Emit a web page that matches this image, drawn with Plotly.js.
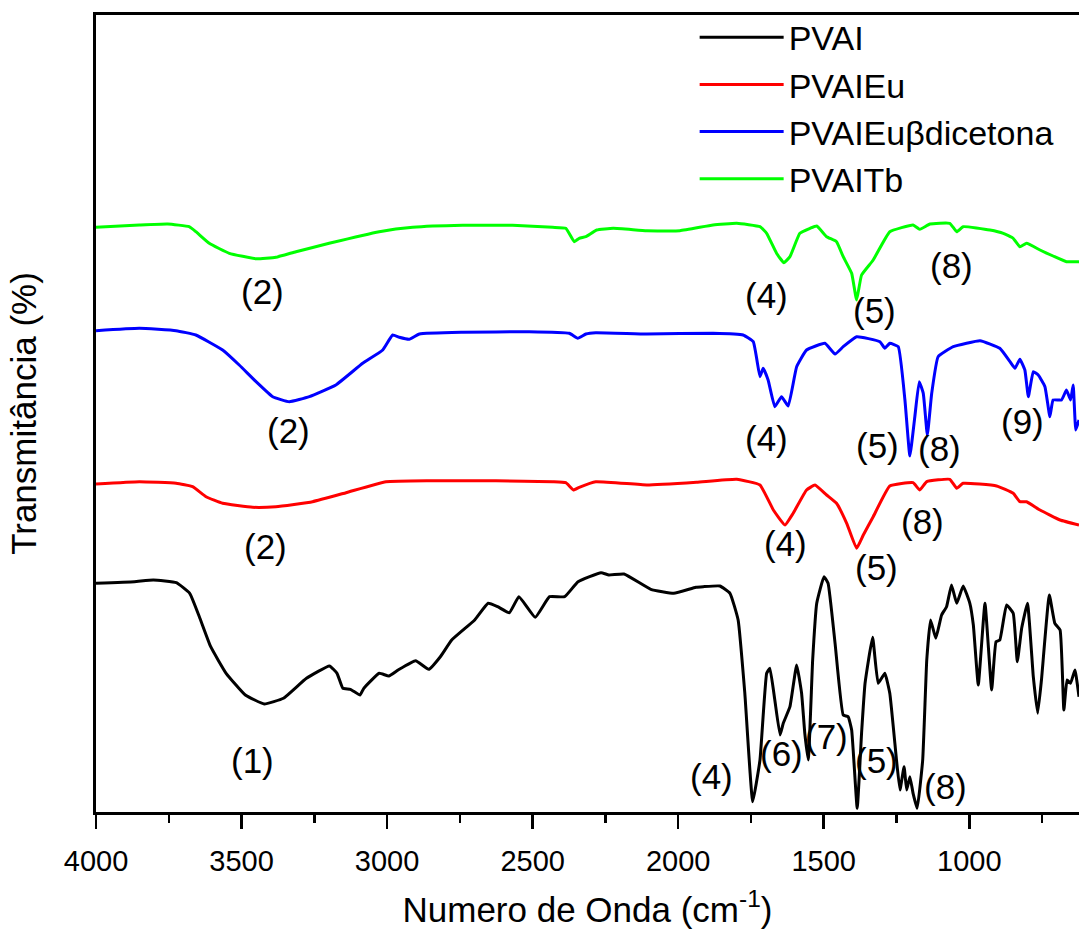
<!DOCTYPE html>
<html>
<head>
<meta charset="utf-8">
<script src="https://cdn.plot.ly/plotly-3.0.1.min.js"></script>
<style>html,body{margin:0;padding:0;background:#fff;}#chart{width:1079px;height:929px;}</style>
</head>
<body>
<div id="chart"></div>
<script>
// Series names
var seriesNames = ["PVAI", "PVAIEu", "PVAIEu\u03B2dicetona", "PVAITb"];

// PVAI (black)
var wnPVAI = [4000,3868,3803,3724,3678,3645,3606,3553,3487,3422,3356,3277,3198,3172,3152,3126,3093,3080,3027,2994,2962,2902,2857,2817,2778,2699,2653,2620,2580,2547,2491,2442,2390,2344,2265,2238,2186,2094,2015,1939,1914,1857,1822,1794,1771,1744,1719,1696,1685,1668,1650,1639,1616,1593,1576,1565,1553,1538,1524,1499,1485,1461,1433,1416,1404,1385,1370,1358,1332,1313,1290,1273,1250,1238,1224,1215,1204,1193,1179,1160,1146,1133,1115,1095,1078,1061,1043,1021,998,986,969,946,923,908,895,872,849,835,820,800,780,765,752,725,706,688,675,664,652,637,623];
var tPVAI = [228.7,230.3,232,229.3,218.7,195.3,165.3,138.7,117,108,113.7,133.7,146,138.7,123.7,122.7,117,123.7,138.7,136,142,151.3,142.7,155.3,172,192,208.7,205.3,199.3,215.3,194.7,215.3,215.3,230.3,239.3,237,238,222.7,218.7,224.7,225.3,226,218.7,192,118.7,10.3,52,138.7,143.7,112,77,88.7,105.3,147,118.7,78.7,52,152,208.7,235.3,228.7,168.7,97,95.3,82,3.7,78.7,128.7,174.7,128.7,138.7,118.7,52,22,45.3,22,35.3,18.7,3.7,52,152,192,173.7,197,205.3,227,208.7,226,208.7,187,127,208.7,122,170.3,172,207,198.7,150.3,183.7,208.7,135.3,98.7,132,217,188.7,182,102,132,128.7,142,115.3];

// PVAIEu (red)
var wnPVAIEu = [4000,3851,3725,3668,3622,3565,3462,3382,3256,3141,3004,2855,2626,2431,2386,2360,2340,2283,2108,1937,1799,1719,1673,1633,1605,1559,1530,1490,1456,1421,1387,1364,1330,1273,1193,1170,1146,1067,1043,1021,906,849,826,803,757,688,623];
var tPVAIEu = [328,330.3,328.7,325.3,315.3,308.7,304.7,305.3,310.3,319.3,330.3,331.3,331.3,330.3,329.3,322,324.7,330.3,327,329.7,332.7,327,302,287,298.7,322,327,317,308.7,288.7,263.7,277,295.3,326,329.3,322,330.3,332.7,323.7,328.7,326,318.7,310.3,310.3,302,292,287];

// PVAIEu-beta-dicetona (blue)
var wnPVAIEuB = [4000,3851,3725,3657,3565,3508,3450,3393,3336,3267,3176,3084,3015,2981,2958,2924,2889,2740,2512,2374,2345,2317,2283,2108,1880,1777,1742,1719,1708,1691,1668,1645,1622,1593,1559,1496,1461,1433,1387,1307,1290,1273,1244,1221,1204,1187,1172,1158,1144,1129,1107,1055,963,895,860,843,826,809,797,780,763,740,723,712,683,666,652,643,634,623];
var tPVAIEuB = [481.3,483.7,481.3,477,462,447,430.3,415.3,410.3,415.3,427,448.7,462,477,474.7,472.7,478,479.7,480.3,478.7,473.7,478,479.3,478,478.7,477,470.3,435.3,443.7,432,405.3,415.3,406,445.3,462,468.7,458,465.3,475.3,470.3,463.7,468.7,465.3,412,356,395.3,430.3,418.7,377,418.7,455.3,465.3,471.3,463.7,450.3,443.7,452.7,442,415.3,440.3,437,425.3,395.3,412,412,422,412,427,382,392];

// PVAITb (green)
var wnPVAITb = [4000,3851,3754,3680,3657,3611,3542,3450,3382,3313,3199,3027,2912,2740,2569,2431,2386,2357,2340,2317,2280,2223,2108,1994,1880,1799,1719,1696,1662,1637,1616,1582,1547,1524,1490,1456,1433,1404,1387,1370,1330,1273,1193,1170,1135,1067,1043,1021,929,883,849,826,803,757,712,666,623];
var tPVAITb = [584.7,587,588,585.3,580.3,568.7,558.7,553.3,554.7,560.3,568.7,580.3,584.7,586.7,586.7,584.7,583.7,570.3,573.7,575.3,582,583.7,581.3,581.3,587,588.7,585.3,578.7,558.7,549.3,555.3,578.7,583.7,586,575.3,570.3,555.3,538.7,512,537,552,580.3,587,582.7,588,588.7,580.3,585.3,582,578.7,573.7,565.3,568.7,562,556,550.3,550.3];

// Band labels
var bandText = ["(2)","(4)","(5)","(8)", "(2)","(4)","(5)","(8)","(9)", "(2)","(4)","(5)","(8)", "(1)","(4)","(6)","(7)","(5)","(8)"];
var bandWn   = [3427,1696,1324,1061, 3338,1696,1315,1103,817, 3416,1633,1317,1160, 3461,1885,1645,1490,1318,1081];
var bandT    = [520.3,517,502,547, 382,373.7,367,363.7,390.3, 265.3,268.7,245,290.3, 52,35.3,58.7,75.3,52,25.3];

var xTickVals = [4000,3500,3000,2500,2000,1500,1000];
var xTickText = ["4000","3500","3000","2500","2000","1500","1000"];
var xMinorVals = [3750,3250,2750,2250,1750,1250,750];

var FONT = "Liberation Sans, Arial, Helvetica, sans-serif";
var colors = ["#000000", "#ff0000", "#0000ff", "#00ff00"];
var xs = [wnPVAI, wnPVAIEu, wnPVAIEuB, wnPVAITb];
var ys = [tPVAI, tPVAIEu, tPVAIEuB, tPVAITb];

var traces = [];
for (var i = 0; i < 4; i++) {
  traces.push({
    x: xs[i], y: ys[i], type: "scatter", mode: "lines", name: seriesNames[i],
    line: {color: colors[i], width: 3, shape: "spline", smoothing: 0.35}, hoverinfo: "skip"
  });
}

var annotations = [];
for (var j = 0; j < bandText.length; j++) {
  annotations.push({
    x: bandWn[j], y: bandT[j], xref: "x", yref: "y", text: bandText[j],
    showarrow: false, font: {family: FONT, size: 35, color: "#000"},
    xanchor: "center", yanchor: "middle"
  });
}

var layout = {
  width: 1079, height: 929,
  margin: {l: 96, r: 0, t: 15, b: 117, pad: 0},
  paper_bgcolor: "#fff", plot_bgcolor: "#fff",
  font: {family: FONT, color: "#000"},
  showlegend: true,
  legend: {
    x: 0.609, y: 1.008, xanchor: "left", yanchor: "top",
    bgcolor: "rgba(0,0,0,0)", borderwidth: 0,
    font: {family: FONT, size: 34, color: "#000"},
    itemwidth: 84, tracegroupgap: 0
  },
  xaxis: {
    range: [4000, 623], showgrid: false, zeroline: false,
    showline: true, linecolor: "#000", linewidth: 3, mirror: true,
    ticks: "outside", ticklen: 14, tickwidth: 2.5, tickcolor: "#000",
    tickvals: xTickVals, ticktext: xTickText, ticklabelstandoff: 7,
    tickfont: {family: FONT, size: 29, color: "#000"},
    minor: {tickvals: xMinorVals, ticks: "outside", ticklen: 8, tickwidth: 2.5, tickcolor: "#000", showgrid: false},
    title: {text: "Numero de Onda (cm<sup>-1</sup>)", font: {family: FONT, size: 35, color: "#000"}, standoff: 31}
  },
  yaxis: {
    range: [0, 797], showgrid: false, zeroline: false,
    showline: true, linecolor: "#000", linewidth: 3, mirror: false,
    ticks: "", showticklabels: false,
    title: {text: "Transmitância (%)", font: {family: FONT, size: 35, color: "#000"}, standoff: 46}
  },
  annotations: annotations
};

Plotly.newPlot("chart", traces, layout, {staticPlot: true, displayModeBar: false});
</script>
</body>
</html>
